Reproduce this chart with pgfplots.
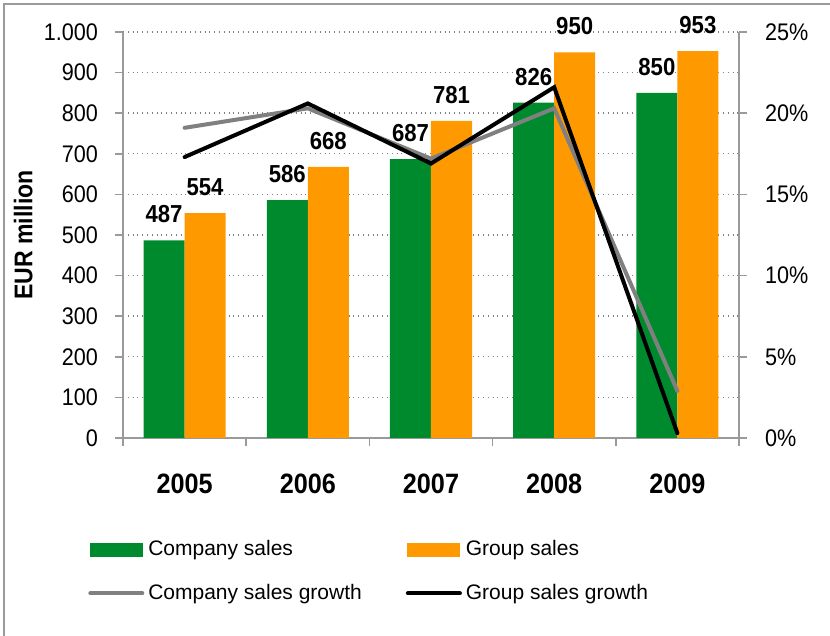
\documentclass[border=0pt]{standalone}
\usepackage{fontspec}
\setmainfont{Liberation Sans}[FakeStretch=0.9]
\newfontfamily\legfont{Liberation Sans}
\usepackage{pgfplots}
\pgfplotsset{compat=1.18}
\definecolor{cgreen}{HTML}{008A2E}
\definecolor{corange}{HTML}{FF9900}
\definecolor{cline}{HTML}{808080}
\definecolor{caxis}{HTML}{9A9A9A}

\pgfplotsset{
  base/.style={
    scale only axis, width=308pt, height=203pt,
    xmin=-0.5, xmax=4.5, clip=false,
    tick align=outside, major tick length=4pt, minor tick length=4pt,
    axis line style={caxis, line width=0.8pt},
    tick style={caxis, line width=0.8pt},
    /pgf/number format/assume math mode=true,
    /pgf/number format/1000 sep={.},
  }
}

\begin{document}
\begin{tikzpicture}
\useasboundingbox (-61.5pt,-99pt) rectangle (353.5pt,219pt);
\draw[caxis, line width=0.8pt] (-59.5pt,-100pt) -- (-59.5pt,217pt) -- (354pt,217pt);

\begin{axis}[base,
  ymin=0, ymax=1000, ytick={0,100,...,1000},
  axis x line*=bottom, axis y line*=left,
  ymajorgrids, grid style={cline, dotted, line width=0.7pt},
  ybar=0pt, bar width=20.5pt,
  xtick={0,1,2,3,4}, xticklabels={2005,2006,2007,2008,2009},
  minor xtick={-0.5,0.5,...,4.5},
  major x tick style={draw=none},
  xticklabel style={font=\bfseries\fontsize{14}{16}\selectfont, yshift=-10.5pt},
  yticklabel style={font=\fontsize{12}{14}\selectfont, xshift=-5pt},
  ylabel={EUR million},
  ylabel style={at={(axis description cs:-0.162,0.5)}, anchor=center,
    font=\bfseries\fontsize{12.8}{14}\selectfont},
  nodes near coords,
  every node near coord/.append style={font=\bfseries\fontsize{12.3}{14}\selectfont,
    anchor=center, yshift=13pt, black},
]
\addplot[fill=cgreen, draw=none] coordinates {(0,487) (1,586) (2,687) (3,826) (4,850)};
\addplot[fill=corange, draw=none] coordinates {(0,554) (1,668) (2,781) (3,950) (4,953)};
\end{axis}

\begin{axis}[base,
  ymin=0, ymax=25, ytick={0,5,...,25},
  axis x line=none, axis y line*=right,
  yticklabel={\pgfmathprintnumber{\tick}\%},
  yticklabel style={font=\fontsize{12}{14}\selectfont, xshift=5.5pt},
  legend columns=2,
  legend image code/.code={\draw[#1] (0pt,0pt) -- (26pt,0pt);},
  legend style={draw=none, fill=none, inner sep=0pt,
    font=\legfont\fontsize{10.5}{12}\selectfont,
    at={(axis description cs:-0.057,-0.242)}, anchor=north west,
    row sep=8.7pt,
    /tikz/every even column/.append style={column sep=20pt}},
  legend cell align=left,
]
\addlegendimage{legend image code/.code={\fill[cgreen] (0pt,-3.25pt) rectangle (26pt,3.25pt);}}
\addlegendentry{Company sales}
\addlegendimage{legend image code/.code={\fill[corange] (0pt,-3.25pt) rectangle (26pt,3.25pt);}}
\addlegendentry{Group sales}
\addplot[cline, line width=2pt, line cap=round] coordinates {(0,19.1) (1,20.3) (2,17.2) (3,20.3) (4,2.9)};
\addlegendentry{Company sales growth}
\addplot[black, line width=2pt, line cap=round] coordinates {(0,17.3) (1,20.6) (2,16.9) (3,21.6) (4,0.3)};
\addlegendentry{Group sales growth}
\end{axis}
\end{tikzpicture}
\end{document}
